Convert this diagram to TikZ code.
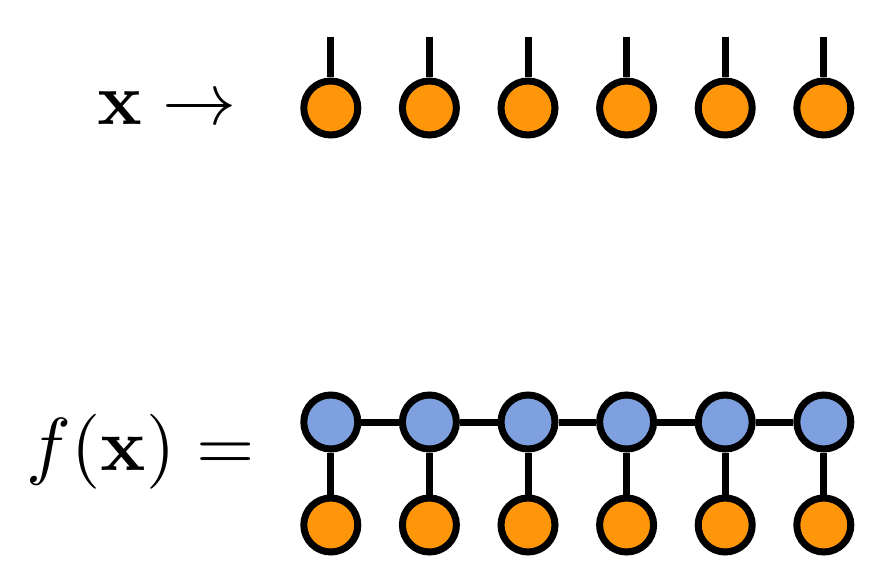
\documentclass[tikz,border=0pt]{standalone}
\usepackage{amsmath, amssymb}
\usepackage{graphicx}
\usepackage{tikz}
\definecolor{siteorange}{RGB}{255,150,10}
\definecolor{coreblue}{RGB}{126,160,222}
\tikzset{%
	site/.style={circle,draw=black,line width=7pt,minimum size=54pt,inner sep=0pt,fill=#1},
	leg/.style={line width=7pt}
}

\begin{document}
\begin{tikzpicture}[x=1pt,y=-1pt]
				\useasboundingbox (0,0) rectangle (880,588);
				\node [anchor=base east,inner sep=0pt] (inlabel) at (237,125) {\scalebox{7.4}{$\mathbf{x}\rightarrow$}};
				\node [anchor=base east,inner sep=0pt] (outlabel) at (255,470) {\scalebox{7.5}{$f(\mathbf{x})=$}};
				\foreach \i in {0,...,5} {
					\coordinate (t\i) at (330.8+98.6*\i, 37);
					\node [site=siteorange, name=x\i] at (330.8+98.6*\i, 108) {};
					\node [site=coreblue, name=b\i] at (330.8+98.6*\i, 422) {};
					\node [site=siteorange, name=o\i] at (330.8+98.6*\i, 525) {};
					\draw [leg] (t\i) -- (x\i.north);
					\draw [leg] (b\i) -- (o\i);
				}
				\foreach \i [count=\j] in {0,...,4}
					\draw [leg] (b\i) -- (b\j);
			\end{tikzpicture}
\end{document}
